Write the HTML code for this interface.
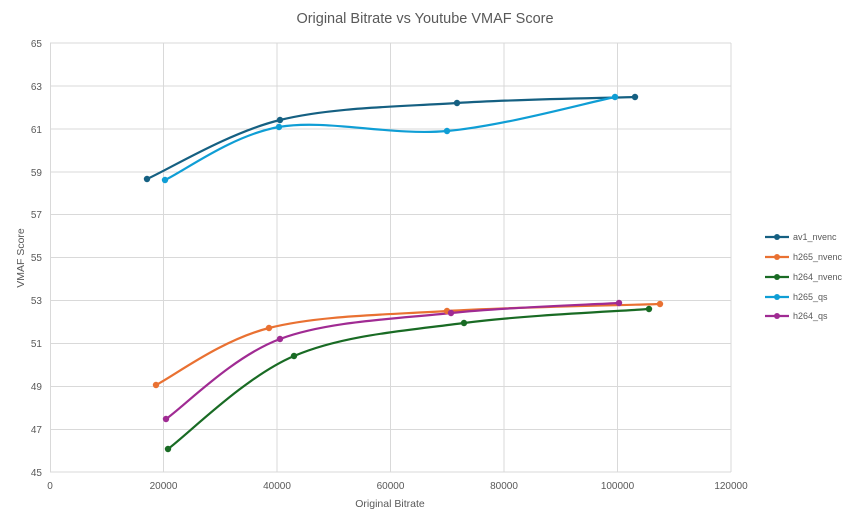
<!DOCTYPE html>
<html><head><style>body{margin:0;background:#fff}svg{display:block}text{font-family:"Liberation Sans",sans-serif}</style></head><body>
<svg width="850" height="521" viewBox="0 0 850 521">
<rect width="850" height="521" fill="#fff"/>
<text x="425" y="23" text-anchor="middle" font-size="14.5" fill="#595959">Original Bitrate vs Youtube VMAF Score</text>
<g stroke="#d9d9d9" stroke-width="1">
<line x1="50" y1="43" x2="731" y2="43"/><line x1="50" y1="86" x2="731" y2="86"/><line x1="50" y1="129" x2="731" y2="129"/><line x1="50" y1="172" x2="731" y2="172"/><line x1="50" y1="214.5" x2="731" y2="214.5"/><line x1="50" y1="257.5" x2="731" y2="257.5"/><line x1="50" y1="300.5" x2="731" y2="300.5"/><line x1="50" y1="343.5" x2="731" y2="343.5"/><line x1="50" y1="386.5" x2="731" y2="386.5"/><line x1="50" y1="429.5" x2="731" y2="429.5"/><line x1="50" y1="472" x2="731" y2="472"/>
<line x1="50.5" y1="43" x2="50.5" y2="472"/><line x1="163.5" y1="43" x2="163.5" y2="472"/><line x1="277" y1="43" x2="277" y2="472"/><line x1="390.5" y1="43" x2="390.5" y2="472"/><line x1="504" y1="43" x2="504" y2="472"/><line x1="617.5" y1="43" x2="617.5" y2="472"/><line x1="731" y1="43" x2="731" y2="472"/>
</g>
<g font-size="10" fill="#595959" text-anchor="end">
<text x="42" y="47">65</text><text x="42" y="90">63</text><text x="42" y="133">61</text><text x="42" y="176">59</text><text x="42" y="218">57</text><text x="42" y="261">55</text><text x="42" y="304">53</text><text x="42" y="347">51</text><text x="42" y="390">49</text><text x="42" y="433">47</text><text x="42" y="476">45</text>
</g>
<g font-size="10" fill="#595959" text-anchor="middle">
<text x="50" y="489">0</text><text x="163.5" y="489">20000</text><text x="277" y="489">40000</text><text x="390.5" y="489">60000</text><text x="504" y="489">80000</text><text x="617.5" y="489">100000</text><text x="731" y="489">120000</text>
</g>
<text x="390" y="507" text-anchor="middle" font-size="10.5" fill="#595959">Original Bitrate</text>
<text transform="translate(24,258) rotate(-90)" text-anchor="middle" font-size="10.5" fill="#595959">VMAF Score</text>
<g fill="none" stroke-width="2.2">
<path stroke="#156082" d="M147,179 C169.2,169.2 228.3,132.7 280,120 C331.7,107.3 397.8,106.8 457,103 C516.2,99.2 605.3,98 635,97"/>
<path stroke="#0f9ed5" d="M165,180 C184,171.2 232,135.2 279,127 C326,118.8 391,136 447,131 C503,126 587,102.7 615,97"/>
<path stroke="#e97132" d="M156,385 C174.8,375.5 220.5,340.3 269,328 C317.5,315.7 381.8,315 447,311 C512.2,307 624.5,305.2 660,304"/>
<path stroke="#196b24" d="M168,449 C189,433.5 244.7,377 294,356 C343.3,335 404.8,330.8 464,323 C523.2,315.2 618.2,311.3 649,309"/>
<path stroke="#a02b93" d="M166,419 C185,405.7 232.5,356.7 280,339 C327.5,321.3 394.5,319 451,313 C507.5,307 591,304.7 619,303"/>
</g>
<g fill="#156082"><circle cx="147" cy="179" r="3.2"/><circle cx="280" cy="120" r="3.2"/><circle cx="457" cy="103" r="3.2"/><circle cx="635" cy="97" r="3.2"/></g>
<g fill="#0f9ed5"><circle cx="165" cy="180" r="3.2"/><circle cx="279" cy="127" r="3.2"/><circle cx="447" cy="131" r="3.2"/><circle cx="615" cy="97" r="3.2"/></g>
<g fill="#e97132"><circle cx="156" cy="385" r="3.2"/><circle cx="269" cy="328" r="3.2"/><circle cx="447" cy="311" r="3.2"/><circle cx="660" cy="304" r="3.2"/></g>
<g fill="#196b24"><circle cx="168" cy="449" r="3.2"/><circle cx="294" cy="356" r="3.2"/><circle cx="464" cy="323" r="3.2"/><circle cx="649" cy="309" r="3.2"/></g>
<g fill="#a02b93"><circle cx="166" cy="419" r="3.2"/><circle cx="280" cy="339" r="3.2"/><circle cx="451" cy="313" r="3.2"/><circle cx="619" cy="303" r="3.2"/></g>
<g font-size="9" fill="#595959" stroke-width="2.2">
<line x1="765" y1="237" x2="789" y2="237" stroke="#156082"/><circle cx="777" cy="237" r="3" fill="#156082"/><text x="793" y="240">av1_nvenc</text>
<line x1="765" y1="257" x2="789" y2="257" stroke="#e97132"/><circle cx="777" cy="257" r="3" fill="#e97132"/><text x="793" y="260">h265_nvenc</text>
<line x1="765" y1="277" x2="789" y2="277" stroke="#196b24"/><circle cx="777" cy="277" r="3" fill="#196b24"/><text x="793" y="280">h264_nvenc</text>
<line x1="765" y1="297" x2="789" y2="297" stroke="#0f9ed5"/><circle cx="777" cy="297" r="3" fill="#0f9ed5"/><text x="793" y="300">h265_qs</text>
<line x1="765" y1="316" x2="789" y2="316" stroke="#a02b93"/><circle cx="777" cy="316" r="3" fill="#a02b93"/><text x="793" y="319">h264_qs</text>
</g>
</svg>
</body></html>
